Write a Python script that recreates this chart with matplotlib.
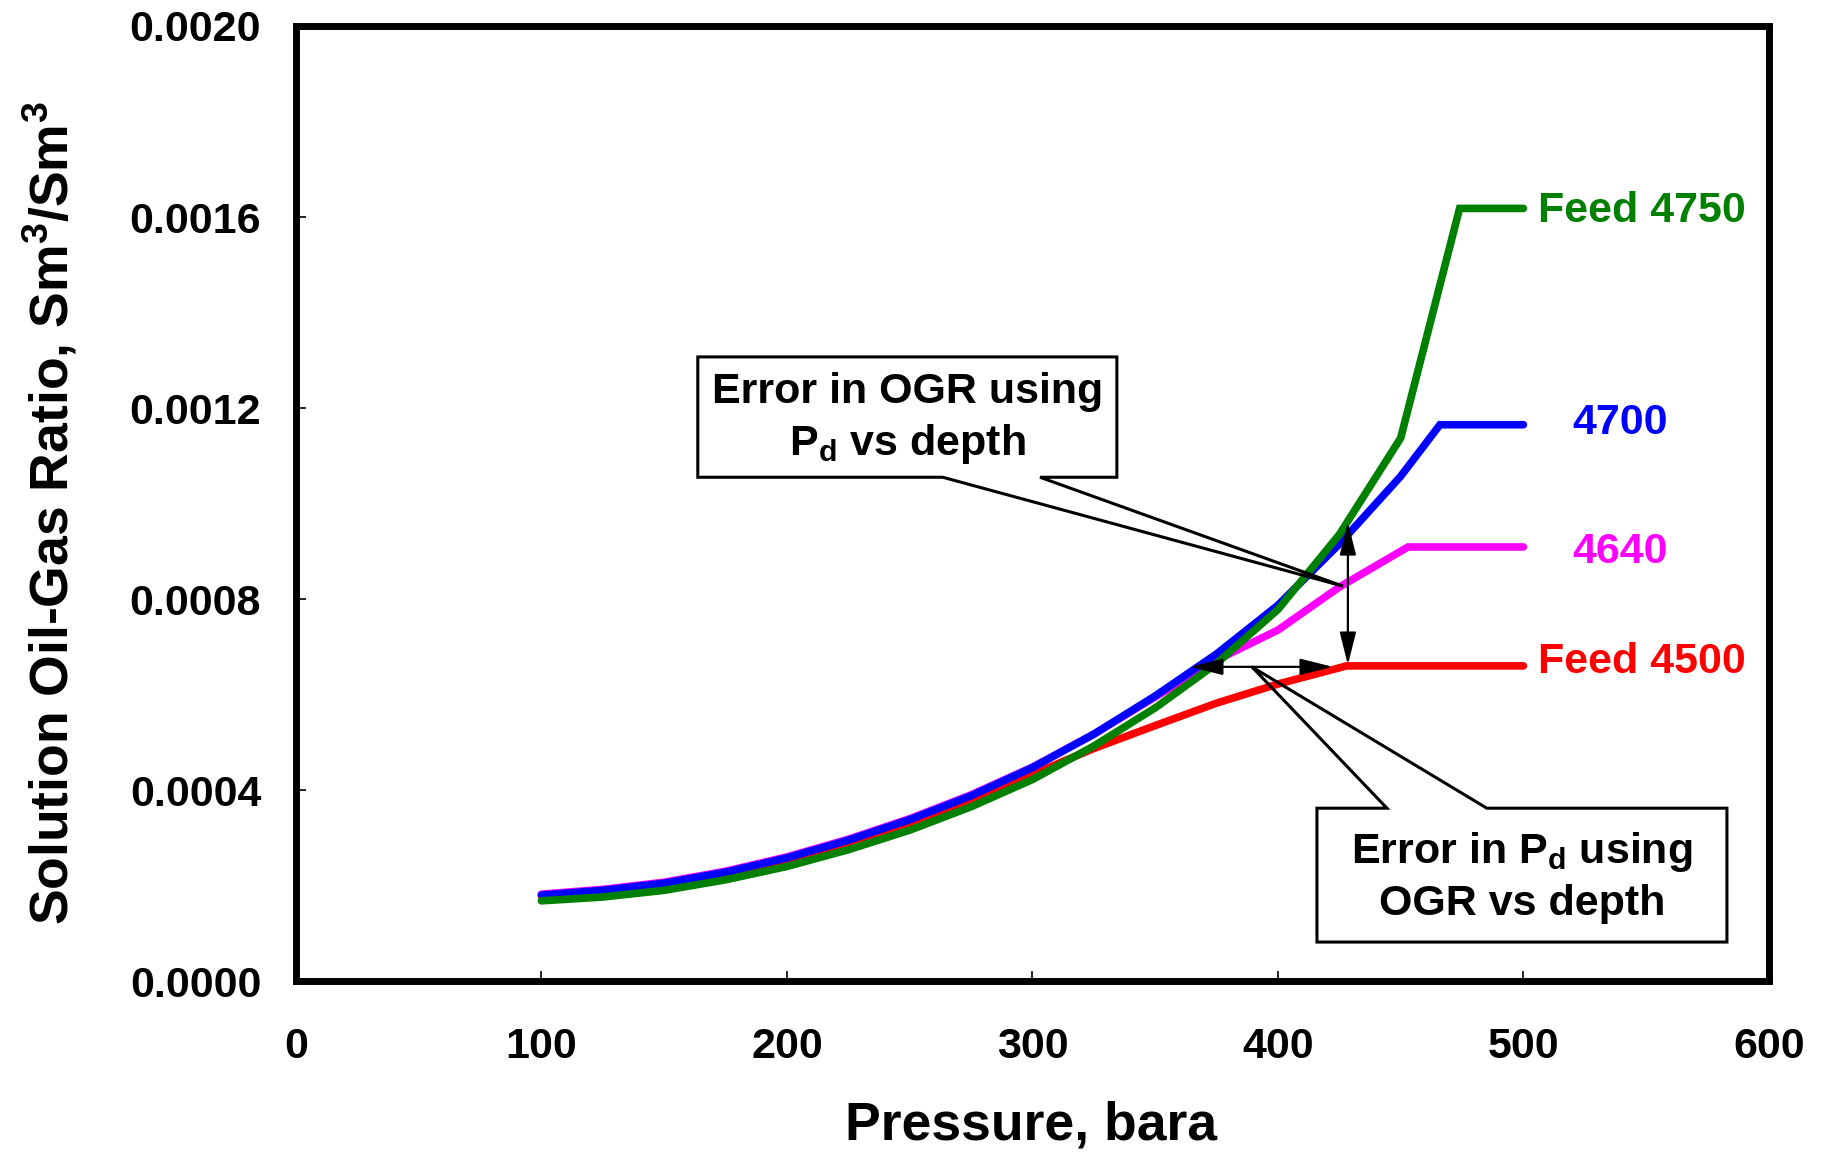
import matplotlib
matplotlib.use("Agg")
import matplotlib.pyplot as plt
from matplotlib.patches import Polygon

plt.rcParams['font.family'] = ['Liberation Sans', 'DejaVu Sans']
plt.rcParams['font.weight'] = 'bold'
plt.rcParams['mathtext.fontset'] = 'custom'
plt.rcParams['mathtext.rm'] = 'Liberation Sans:bold'
plt.rcParams['mathtext.it'] = 'Liberation Sans:bold'
plt.rcParams['mathtext.bf'] = 'Liberation Sans:bold'

# ---- data ----
p_4500 = [100, 125, 150, 175, 200, 225, 250, 275, 300, 325, 350, 375, 400, 428, 500]
ogr_4500 = [0.000178, 0.000188, 0.000203, 0.000225, 0.000254, 0.000290, 0.000332, 0.000380,
            0.000433, 0.000487, 0.000535, 0.000582, 0.000622, 0.000660, 0.000660]

p_4640 = [100, 125, 150, 175, 200, 225, 250, 275, 300, 325, 350, 375, 400, 425, 453, 500]
ogr_4640 = [0.000182, 0.000192, 0.000207, 0.000230, 0.000260, 0.000297, 0.000340, 0.000390,
            0.000448, 0.000517, 0.000595, 0.000672, 0.000735, 0.000825, 0.000909, 0.000909]

p_4700 = [100, 125, 150, 175, 200, 225, 250, 275, 300, 325, 350, 375, 400, 425, 450, 466, 500]
ogr_4700 = [0.000180, 0.000190, 0.000205, 0.000228, 0.000258, 0.000295, 0.000338, 0.000388,
            0.000447, 0.000517, 0.000597, 0.000685, 0.000787, 0.000915, 0.001057, 0.001165, 0.001165]

p_4750 = [100, 125, 150, 175, 200, 225, 250, 275, 300, 325, 350, 375, 400, 425, 450, 474, 500]
ogr_4750 = [0.000168, 0.000176, 0.000190, 0.000212, 0.000240, 0.000275, 0.000316, 0.000365,
            0.000422, 0.000492, 0.000572, 0.000665, 0.000778, 0.000935, 0.001137, 0.001618, 0.001618]

series_labels = ['Feed 4500', '4640', '4700', 'Feed 4750']
series_colors = ['#FF0000', '#FF00FF', '#0000FF', '#008000']

x_ticks = [0, 100, 200, 300, 400, 500, 600]
y_ticks = [0.0, 0.0004, 0.0008, 0.0012, 0.0016, 0.0020]
y_tick_labels = ['0.0000', '0.0004', '0.0008', '0.0012', '0.0016', '0.0020']

fig = plt.figure(figsize=(18.21, 11.55), dpi=100)
ax = fig.add_axes([0.1625, 0.1506, 0.8089, 0.8269])

data = [(p_4500, ogr_4500), (p_4640, ogr_4640), (p_4700, ogr_4700), (p_4750, ogr_4750)]
for (px, py), c in zip(data, series_colors):
    ax.plot(px, py, color=c, lw=5.5, solid_capstyle='round', solid_joinstyle='miter', zorder=2)

# series labels
label_pos = [(506, 0.000669), (520, 0.000899), (520, 0.001169), (506, 0.001613)]
for (lx, ly), t, c in zip(label_pos, series_labels, series_colors):
    ax.text(lx, ly, t, color=c, fontsize=31, fontweight='bold', ha='left', va='center')

# arrows
astyle = '<|-|>,head_length=0.8,head_width=0.2'
ax.annotate('', xy=(428.5, 0.000961), xytext=(428.5, 0.000662),
            arrowprops=dict(arrowstyle=astyle, color='black', lw=1.6, mutation_scale=25,
                            shrinkA=0, shrinkB=0), zorder=5)
ax.annotate('', xy=(364.2, 0.000658), xytext=(422.4, 0.000658),
            arrowprops=dict(arrowstyle=astyle, color='black', lw=1.6, mutation_scale=25,
                            shrinkA=0, shrinkB=0), zorder=5)

# callout boxes
box1 = [(163.7, 0.001307), (334.4, 0.001307), (334.4, 0.001055), (303.1, 0.001055),
        (426.5, 0.000827), (263.5, 0.001055), (163.7, 0.001055)]
box2 = [(415.9, 0.000362), (444.4, 0.000362), (389.4, 0.000658), (485.1, 0.000362),
        (582.9, 0.000362), (582.9, 0.0000817), (415.9, 0.0000817)]
for b in (box1, box2):
    ax.add_patch(Polygon(b, closed=True, facecolor='none', edgecolor='black', lw=2.2,
                         joinstyle='miter', zorder=4))
ax.text(249, 0.001177, 'Error in OGR using\nP$_\\mathregular{d}$ vs depth', fontsize=31,
        fontweight='bold', ha='center', va='center', linespacing=1.3, zorder=6)
ax.text(499.4, 0.000218, 'Error in P$_\\mathregular{d}$ using\nOGR vs depth', fontsize=31,
        fontweight='bold', ha='center', va='center', linespacing=1.3, zorder=6)

ax.set_xlim(0, 600)
ax.set_ylim(0, 0.002)
ax.set_xticks(x_ticks)
ax.set_xticklabels([str(v) for v in x_ticks])
ax.set_yticks(y_ticks)
ax.set_yticklabels(y_tick_labels)
ax.tick_params(axis='both', direction='in', length=7, width=1.2, labelsize=31)
ax.tick_params(axis='x', pad=33)
ax.tick_params(axis='y', pad=25)
for lab in ax.get_xticklabels() + ax.get_yticklabels():
    lab.set_fontweight('bold')
for s in ax.spines.values():
    s.set_linewidth(5)

ax.set_xlabel('Pressure, bara', fontsize=38.5, fontweight='bold')
ax.set_ylabel('Solution Oil-Gas Ratio, Sm$^\\mathregular{3}$/Sm$^\\mathregular{3}$', fontsize=38.5,
              fontweight='bold')
ax.xaxis.set_label_coords(0.499, -0.125)
ax.yaxis.set_label_coords(-0.147, 0.49)

fig.savefig('out.png', dpi=100)
